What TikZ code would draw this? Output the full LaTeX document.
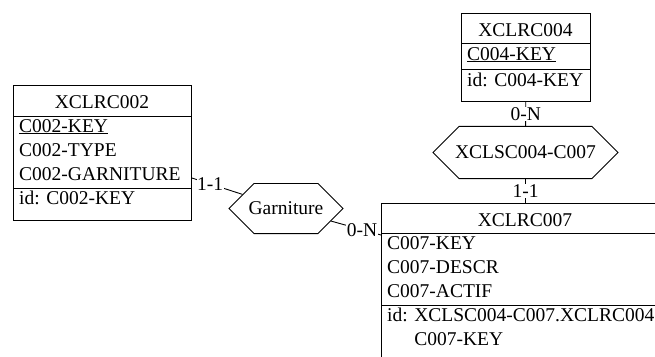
\documentclass[tikz,border=0pt]{standalone}
\usepackage{fontspec}
\setmainfont{Liberation Serif}
\usetikzlibrary{shapes.misc}

\tikzset{
  entity/.style={draw, line width=0.9pt, inner sep=0pt, anchor=north west},
  rel/.style={draw, line width=0.9pt, chamfered rectangle, inner sep=0pt},
  attr/.style={anchor=base west, inner sep=0pt},
  ttl/.style={anchor=base, inner sep=0pt},
  role/.style={fill=white, inner sep=0.5pt},
  link/.style={line width=0.9pt}
}

\begin{document}
\begin{tikzpicture}[x=1pt, y=-1pt, font=\fontsize{19.5pt}{24pt}\selectfont]
\path[use as bounding box, clip] (0,0) rectangle (655,356);

% XCLRC002
\node[entity, minimum width=178pt, minimum height=135pt] (c002) at (13,85) {};
\draw[link] ([yshift=-31pt]c002.north west) -- ([yshift=-31pt]c002.north east);
\draw[link] ([yshift=-103pt]c002.north west) -- ([yshift=-103pt]c002.north east);
\node[ttl] (c002t) at (102,108) {XCLRC002};
\node[attr] (c002a) at (19,132) {\underline{C002-KEY}};
\node[attr] (c002b) at (19,156) {C002-TYPE};
\node[attr] (c002c) at (19,180) {C002-GARNITURE};
\node[attr] (c002i) at (19,204) {id: C002-KEY};

% XCLRC004
\node[entity, minimum width=129pt, minimum height=88pt] (c004) at (461,13) {};
\draw[link] ([yshift=-30pt]c004.north west) -- ([yshift=-30pt]c004.north east);
\draw[link] ([yshift=-56pt]c004.north west) -- ([yshift=-56pt]c004.north east);
\node[ttl] (c004t) at (525.5,36) {XCLRC004};
\node[attr] (c004a) at (467,60) {\underline{C004-KEY}};
\node[attr] (c004i) at (467,86) {id: C004-KEY};

% XCLRC007
\node[entity, minimum width=288pt, minimum height=160pt] (c007) at (381,203) {};
\draw[link] ([yshift=-30pt]c007.north west) -- ([yshift=-30pt]c007.north east);
\draw[link] ([yshift=-102pt]c007.north west) -- ([yshift=-102pt]c007.north east);
\node[ttl] (c007t) at (525,226) {XCLRC007};
\node[attr] (c007a) at (387,249) {C007-KEY};
\node[attr] (c007b) at (387,273) {C007-DESCR};
\node[attr] (c007c) at (387,297) {C007-ACTIF};
\node[attr] (c007i) at (387,321) {id: XCLSC004-C007.XCLRC004};
\node[attr] (c007j) at (387,345) {\phantom{id: }C007-KEY};

% relationships
\node[rel, minimum width=114pt, minimum height=37pt,
  chamfered rectangle xsep=16pt, chamfered rectangle ysep=18.5pt] (garn) at (286,208.5) {Garniture};
\node[rel, minimum width=185pt, minimum height=39pt,
  chamfered rectangle xsep=18pt, chamfered rectangle ysep=19.5pt] (lnk) at (525.5,152.5) {XCLSC004-C007};

\draw[link] ([yshift=-93pt]c002.north east) -- (garn) node[role, pos=0.36] {1-1};
\draw[link] (garn) -- ([yshift=-32pt]c007.north west) node[role, pos=0.62] {0-N};
\draw[link] (c004) -- (lnk) node[role, midway] {0-N};
\draw[link] (lnk) -- (lnk.south |- c007.north) node[role, midway] {1-1};
\end{tikzpicture}
\end{document}
